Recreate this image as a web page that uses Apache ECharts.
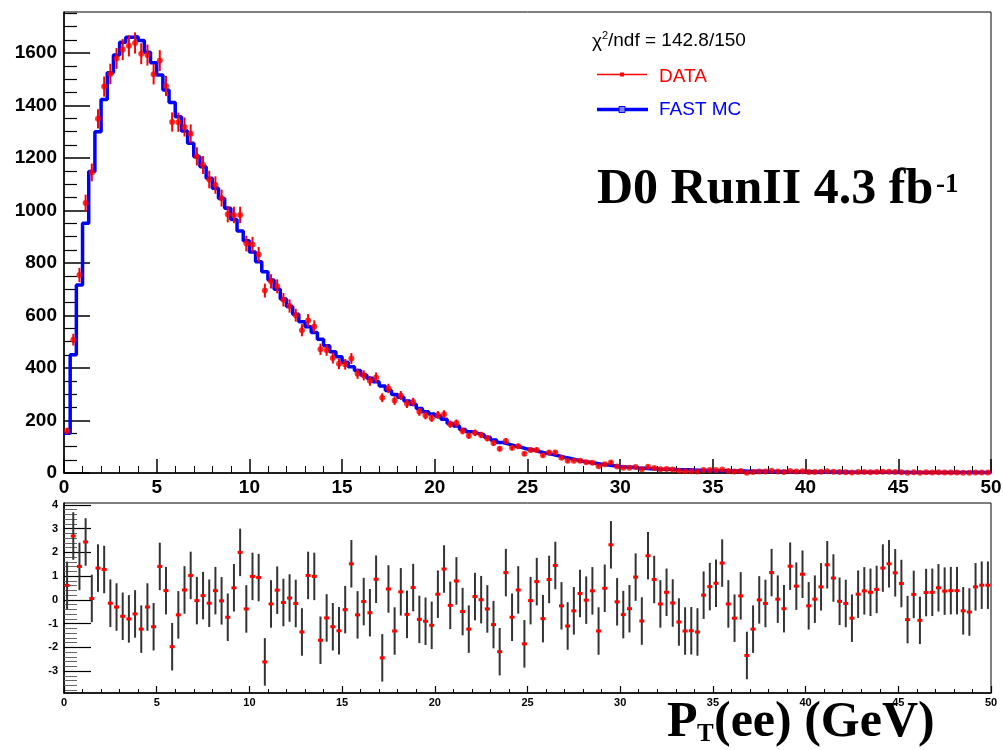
<!DOCTYPE html>
<html>
<head>
<meta charset="utf-8">
<script src="https://cdn.jsdelivr.net/npm/echarts@6/dist/echarts.min.js"></script>
<style>
html,body{margin:0;padding:0;background:#fff;}
#chart{width:1003px;height:750px;}
</style>
</head>
<body>
<div id="chart"></div>
<script>
// ---------------- DATA ----------------
// 150 bins of P_T(ee) from 0 to 50 GeV
const xRange = [0, 50];
const nBins = 150;
const xTickLabels = [0, 5, 10, 15, 20, 25, 30, 35, 40, 45, 50];
const yTickLabelsTop = [0, 200, 400, 600, 800, 1000, 1200, 1400, 1600];
const yTickLabelsRes = [-3, -2, -1, 0, 1, 2, 3, 4];

// FAST MC histogram contents per bin
const mcValues = [
  151, 450, 716, 951, 1148, 1300, 1423, 1525, 1592, 1641,
  1660, 1662, 1647, 1603, 1563, 1516, 1459, 1411, 1357, 1303,
  1256, 1205, 1167, 1123, 1085, 1046, 1008, 966, 922, 885,
  842, 805, 767, 735, 700, 663, 634, 605, 576, 557,
  535, 509, 485, 462, 443, 422, 405, 390, 373, 361,
  348, 331, 314, 299, 289, 274, 262, 246, 233, 225,
  217, 205, 189, 179, 166, 157, 151, 145, 136, 126,
  116, 110, 103, 98, 91, 88, 81, 75, 71, 66,
  60, 55, 50, 45, 41, 37, 33, 30.5, 28, 25,
  23, 21.5, 19, 18, 16.5, 15.5, 14.5, 14, 13, 12.5,
  12, 11, 10.5, 10, 9.5, 9, 8.6, 8.2, 7.8, 7.4,
  7, 6.7, 6.4, 6.1, 5.8, 5.5, 5.3, 5, 4.8, 4.6,
  4.4, 4.2, 4, 3.9, 3.7, 3.6, 3.4, 3.3, 3.2, 3,
  2.9, 2.8, 2.7, 2.6, 2.5, 2.4, 2.3, 2.2, 2.15, 2.1,
  2, 1.95, 1.9, 1.8, 1.75, 1.7, 1.65, 1.6, 1.55, 1.5
];

// DATA counts per bin
const dataValues = [
  160, 508, 754, 1028, 1145, 1349, 1472, 1520, 1579, 1613,
  1627, 1638, 1597, 1592, 1519, 1571, 1474, 1337, 1336, 1318,
  1292, 1206, 1173, 1118, 1097, 1047, 986, 983, 983, 874,
  870, 832, 695, 730, 711, 660, 636, 601, 544, 581,
  558, 471, 468, 438, 416, 414, 436, 378, 372, 351,
  364, 287, 322, 276, 295, 264, 270, 233, 219, 209,
  221, 224, 186, 190, 160, 142, 153, 145, 132, 114,
  92, 122, 96, 102, 73, 88, 88, 68, 78, 78,
  58, 47, 47, 47, 41, 39, 26, 33, 40, 25,
  20, 20, 23, 14, 24, 19, 14, 15, 13, 9,
  7, 7, 6, 11, 11, 11, 13, 8, 6, 8,
  1, 4, 6, 6, 9, 6, 4, 8, 6, 7,
  4, 4, 5, 7, 5, 4, 3, 2, 4, 4,
  3, 4, 5, 5, 4, 3, 1, 3, 1, 3,
  2, 3, 2, 2, 2, 1, 1, 2, 2, 2
];

// (DATA - MC)/sigma per bin
const residuals = [
  0.61, 2.69, 1.41, 2.44, 0.06, 1.34, 1.28, -0.14, -0.30, -0.69,
  -0.80, -0.59, -1.23, -0.30, -1.13, 1.41, 0.39, -1.97, -0.63, 0.42,
  1.03, -0.03, 0.18, -0.14, 0.39, -0.04, -0.73, 0.51, 2.00, -0.38,
  0.99, 0.94, -2.61, -0.17, 0.41, -0.11, 0.08, -0.15, -1.35, 1.03,
  0.99, -1.70, -0.76, -1.13, -1.30, -0.41, 1.52, -0.63, -0.07, -0.54,
  0.87, -2.44, 0.46, -1.31, 0.34, -0.61, 0.52, -0.82, -0.90, -1.07,
  0.24, 1.30, -0.23, 0.80, -0.49, -1.23, 0.14, 0.01, -0.38, -1.04,
  -2.18, 1.15, -0.73, 0.42, -1.85, -0.03, 0.77, -0.79, 0.86, 1.45,
  -0.25, -1.10, -0.46, 0.27, -0.01, 0.38, -1.31, 0.49, 2.32, -0.08,
  -0.62, -0.37, 0.96, -0.89, 1.86, 0.86, -0.17, 0.32, -0.13, -0.93,
  -1.31, -1.30, -1.35, 0.20, 0.56, 0.70, 1.55, -0.17, -0.77, 0.17,
  -2.34, -1.23, 0.00, -0.15, 1.15, 0.03, -0.37, 1.42, 0.58, 1.08,
  -0.25, 0.03, 0.55, 1.48, 0.92, -0.06, -0.15, -0.77, 0.24, 0.38,
  0.32, 0.44, 1.34, 1.52, 1.14, 0.69, -0.83, 0.23, -0.86, 0.31,
  0.32, 0.51, 0.37, 0.39, 0.39, -0.46, -0.51, 0.55, 0.62, 0.62
];

// ---------------- BUILD ----------------
const binW = (xRange[1] - xRange[0]) / nBins;
const center = i => xRange[0] + (i + 0.5) * binW;
const mcStep = mcValues.map((v, i) => [xRange[0] + i * binW, v]);
mcStep.push([xRange[1], mcValues[mcValues.length - 1]]);
const dataPts = dataValues.map((v, i) => [center(i), v]);
const resPts = residuals.map((v, i) => [center(i), v]);

const topMax = 1756;
const resMin = -3.92, resMax = 4.08;
const minorTop = [];
for (let v = 50; v < topMax; v += 50) if (v % 200 !== 0) minorTop.push(v);
const minorRes = [];
for (let k = -19; k <= 20; k++) { if (k % 5 !== 0) minorRes.push(k / 5); }

const SANS = 'Liberation Sans, Arial, Helvetica, sans-serif';
const SERIF = 'Liberation Serif, Times New Roman, serif';
const plain = v => String(v);

const chart = echarts.init(document.getElementById('chart'), null, {renderer: 'canvas'});

const axisLineStyle = {color: '#000', width: 1.5};
const option = {
  animation: false,
  backgroundColor: '#fff',
  grid: [
    {left: 64, top: 12, width: 927, height: 461, show: true, borderColor: '#000', borderWidth: 1, backgroundColor: 'transparent', containLabel: false, outerBoundsMode: 'none'},
    {left: 64, top: 503, width: 927, height: 190, show: true, borderColor: '#000', borderWidth: 1, backgroundColor: 'transparent', containLabel: false, outerBoundsMode: 'none'}
  ],
  xAxis: [
    {gridIndex: 0, type: 'value', min: xRange[0], max: xRange[1], interval: 5,
     axisLine: {show: true, onZero: false, lineStyle: axisLineStyle},
     axisTick: {show: true, inside: true, length: 14, lineStyle: {color: '#000', width: 1.5}},
     minorTick: {show: true, splitNumber: 5, length: 7, lineStyle: {color: '#000', width: 1}},
     axisLabel: {show: true, customValues: xTickLabels, formatter: plain, fontFamily: SANS, fontWeight: 'bold', fontSize: 19, color: '#000', margin: 5},
     splitLine: {show: false}, minorSplitLine: {show: false}},
    {gridIndex: 1, type: 'value', min: xRange[0], max: xRange[1], interval: 5,
     axisLine: {show: true, onZero: false, lineStyle: {color: '#000', width: 1.5}},
     axisTick: {show: true, inside: true, length: 7, lineStyle: {color: '#000', width: 1.2}},
     minorTick: {show: true, splitNumber: 5, length: 4, lineStyle: {color: '#000', width: 1}},
     axisLabel: {show: true, customValues: xTickLabels, formatter: plain, fontFamily: SANS, fontWeight: 'bold', fontSize: 11, color: '#000', margin: 4},
     splitLine: {show: false}}
  ],
  yAxis: [
    {gridIndex: 0, type: 'value', min: 0, max: topMax, position: 'left',
     axisLine: {show: true, onZero: false, lineStyle: axisLineStyle},
     axisTick: {show: true, inside: true, length: 26, customValues: yTickLabelsTop, lineStyle: {color: '#000', width: 1.5}},
     axisLabel: {show: true, customValues: yTickLabelsTop, formatter: plain, fontFamily: SANS, fontWeight: 'bold', fontSize: 19, color: '#000', margin: 7},
     splitLine: {show: false}},
    {gridIndex: 0, type: 'value', min: 0, max: topMax, position: 'left',
     axisLine: {show: false},
     axisTick: {show: true, inside: true, length: 13, customValues: minorTop, lineStyle: {color: '#000', width: 1.2}},
     axisLabel: {show: false}, splitLine: {show: false}},
    {gridIndex: 1, type: 'value', min: resMin, max: resMax, position: 'left',
     axisLine: {show: true, onZero: false, lineStyle: {color: '#000', width: 1.5}},
     axisTick: {show: true, inside: true, length: 27, customValues: yTickLabelsRes, lineStyle: {color: '#000', width: 1.2}},
     axisLabel: {show: true, customValues: yTickLabelsRes, formatter: plain, fontFamily: SANS, fontWeight: 'bold', fontSize: 11, color: '#000', margin: 6},
     splitLine: {show: false}},
    {gridIndex: 1, type: 'value', min: resMin, max: resMax, position: 'left',
     axisLine: {show: false},
     axisTick: {show: true, inside: true, length: 13, customValues: minorRes, lineStyle: {color: '#666', width: 1}},
     axisLabel: {show: false}, splitLine: {show: false}}
  ],
  series: [
    {name: 'FAST MC', type: 'line', xAxisIndex: 0, yAxisIndex: 0, data: mcStep, step: 'end',
     symbol: 'none', lineStyle: {color: '#0000ff', width: 3.5}, z: 2, clip: true},
    {name: 'DATA err', type: 'custom', xAxisIndex: 0, yAxisIndex: 0, data: dataPts, z: 3,
     encode: {x: 0, y: 1},
     renderItem: function (params, api) {
       const x = api.value(0), y = api.value(1);
       const e = Math.sqrt(y);
       const p1 = api.coord([x, y + e]), p2 = api.coord([x, Math.max(0, y - e)]);
       return {type: 'line', shape: {x1: p1[0], y1: p1[1], x2: p2[0], y2: p2[1]},
               style: {stroke: '#ff0000', lineWidth: 2}};
     }},
    {name: 'DATA', type: 'scatter', xAxisIndex: 0, yAxisIndex: 0, data: dataPts, symbol: 'circle',
     symbolSize: 6, itemStyle: {color: '#ff0000'}, z: 4},
    {name: 'residual', type: 'custom', xAxisIndex: 1, yAxisIndex: 2, data: resPts, z: 3, clip: true,
     encode: {x: 0, y: 1},
     renderItem: function (params, api) {
       const x = api.value(0), y = api.value(1);
       const p1 = api.coord([x, y + 1]), p2 = api.coord([x, y - 1]), c = api.coord([x, y]);
       return {type: 'group', children: [
         {type: 'line', shape: {x1: p1[0], y1: p1[1], x2: p2[0], y2: p2[1]}, style: {stroke: '#333', lineWidth: 2}},
         {type: 'rect', shape: {x: c[0] - 2.5, y: c[1] - 1.5, width: 5, height: 3}, style: {fill: '#ff0000'}}
       ]};
     }}
  ],
  graphic: [
    // chi2 text
    {type: 'text', left: 592, top: 32, style: {text: 'χ', font: '19px ' + SANS, fill: '#000'}},
    {type: 'text', left: 602, top: 30, style: {text: '2', font: '11px ' + SANS, fill: '#000'}},
    {type: 'text', left: 608, top: 31, style: {text: '/ndf = 142.8/150', font: '19px ' + SANS, fill: '#000'}},
    // legend DATA
    {type: 'line', shape: {x1: 597, y1: 74.5, x2: 647, y2: 74.5}, style: {stroke: '#ff0000', lineWidth: 1.5}},
    {type: 'rect', shape: {x: 620, y: 72.5, width: 4, height: 4}, style: {fill: '#ff0000'}},
    {type: 'text', left: 659, top: 67, style: {text: 'DATA', font: '19px ' + SANS, fill: '#ff0000'}},
    // legend FAST MC
    {type: 'line', shape: {x1: 597, y1: 109.5, x2: 648, y2: 109.5}, style: {stroke: '#0000ff', lineWidth: 3.5}},
    {type: 'rect', shape: {x: 619, y: 106.5, width: 6, height: 6}, style: {fill: '#8080ff', stroke: '#0000ff', lineWidth: 1}},
    {type: 'text', left: 659, top: 100, style: {text: 'FAST MC', font: '19px ' + SANS, fill: '#0000ff'}},
    // D0 RunII label
    {type: 'text', left: 597, top: 165, style: {text: 'D0 RunII 4.3 fb', font: 'bold 50px ' + SERIF, fill: '#000'}},
    {type: 'text', left: 936, top: 172, style: {text: '-1', font: 'bold 27px ' + SERIF, fill: '#000'}},
    // x-axis title
    {type: 'text', left: 667, top: 698, style: {text: 'P', font: 'bold 50px ' + SERIF, fill: '#000'}},
    {type: 'text', left: 697, top: 722, style: {text: 'T', font: 'bold 25px ' + SERIF, fill: '#000'}},
    {type: 'text', left: 714, top: 698, style: {text: '(ee) (GeV)', font: 'bold 50px ' + SERIF, fill: '#000'}}
  ]
};
chart.setOption(option);
</script>
</body>
</html>
